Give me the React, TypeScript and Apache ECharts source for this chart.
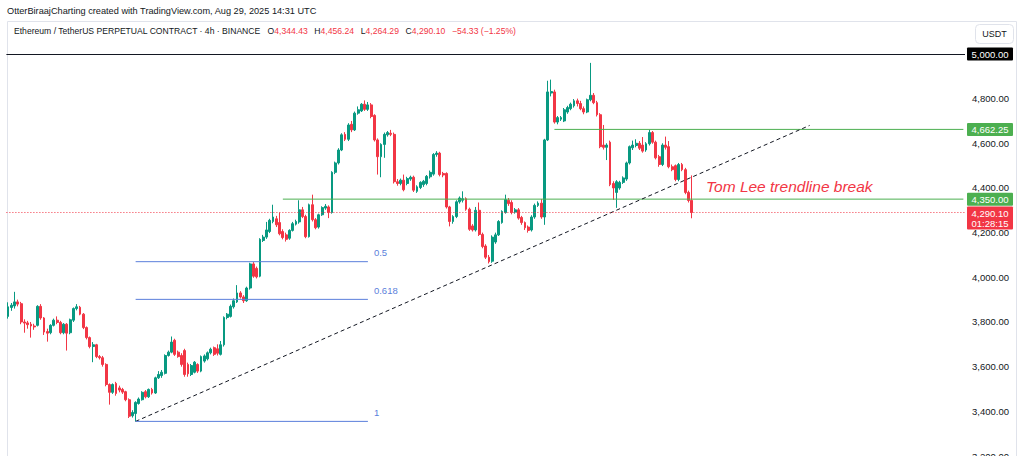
import React, { useEffect, useRef } from 'react';
import * as echarts from 'echarts';

// Each candle: [open, close, low, high] — ETH/USDT perpetual, 4h
const leg1 = [
  [3825, 3868, 3815, 3888], [3865, 3875, 3850, 3885], [3872, 3890, 3860, 3935], [3890, 3880, 3870, 3900],
  [3882, 3800, 3790, 3890], [3800, 3795, 3752, 3812], [3796, 3788, 3770, 3805], [3790, 3782, 3730, 3800],
  [3782, 3778, 3765, 3792], [3785, 3870, 3780, 3875], [3870, 3818, 3810, 3880], [3818, 3755, 3742, 3822],
  [3757, 3750, 3712, 3770], [3752, 3785, 3745, 3790], [3785, 3808, 3780, 3815], [3808, 3798, 3790, 3825],
  [3798, 3752, 3745, 3805], [3752, 3790, 3745, 3795], [3790, 3750, 3672, 3795], [3752, 3810, 3745, 3815],
  [3808, 3860, 3800, 3865], [3860, 3868, 3852, 3880], [3866, 3835, 3830, 3872], [3835, 3775, 3768, 3840],
  [3775, 3730, 3722, 3780], [3730, 3690, 3682, 3735], [3690, 3698, 3620, 3710], [3698, 3645, 3638, 3702],
  [3645, 3640, 3632, 3652], [3640, 3610, 3600, 3648], [3610, 3520, 3512, 3615], [3520, 3485, 3430, 3525],
  [3485, 3520, 3478, 3525], [3525, 3480, 3470, 3532],
];
const leg2 = [
  [3505, 3495, 3485, 3515], [3498, 3486, 3478, 3505], [3488, 3452, 3445, 3492], [3452, 3378, 3370, 3458],
  [3380, 3395, 3372, 3405], [3390, 3440, 3355, 3445], [3435, 3455, 3430, 3462], [3452, 3485, 3448, 3490],
  [3488, 3465, 3458, 3495], [3465, 3498, 3460, 3502], [3498, 3482, 3475, 3505], [3482, 3550, 3478, 3555],
  [3550, 3565, 3545, 3580], [3560, 3575, 3550, 3585], [3570, 3650, 3565, 3655], [3650, 3665, 3645, 3672],
  [3665, 3710, 3660, 3735], [3718, 3655, 3648, 3725], [3665, 3645, 3640, 3672], [3650, 3610, 3600, 3660],
  [3672, 3565, 3555, 3680], [3610, 3568, 3555, 3618], [3565, 3605, 3558, 3612], [3575, 3620, 3570, 3625],
  [3610, 3580, 3572, 3615], [3580, 3645, 3575, 3650], [3625, 3648, 3618, 3655], [3635, 3662, 3628, 3668],
  [3662, 3678, 3655, 3685], [3685, 3655, 3648, 3690], [3680, 3660, 3650, 3700], [3655, 3698, 3650, 3715],
  [3698, 3820, 3690, 3825], [3820, 3835, 3812, 3840], [3825, 3870, 3820, 3878],
];
const leg3 = [
  [3868, 3895, 3860, 3905], [3890, 3930, 3885, 3965], [3930, 3912, 3905, 3938], [3912, 3895, 3885, 3920],
  [3895, 3952, 3890, 3958], [3952, 4060, 3945, 4065], [4060, 4005, 3998, 4068], [4040, 4002, 3995, 4048],
  [4005, 4170, 4000, 4175], [4165, 4180, 4158, 4190], [4180, 4212, 4172, 4248], [4205, 4255, 4198, 4262],
  [4250, 4270, 4242, 4325], [4262, 4235, 4225, 4275], [4245, 4195, 4188, 4290], [4205, 4178, 4170, 4215],
  [4190, 4170, 4160, 4200], [4175, 4210, 4168, 4215], [4210, 4240, 4205, 4248], [4238, 4250, 4232, 4258],
  [4248, 4302, 4240, 4345], [4302, 4272, 4265, 4315], [4272, 4182, 4175, 4280], [4182, 4325, 4178, 4330],
  [4325, 4258, 4250, 4370], [4258, 4222, 4215, 4265], [4225, 4280, 4218, 4285], [4280, 4312, 4275, 4318],
  [4310, 4318, 4302, 4328], [4315, 4290, 4265, 4322], [4290, 4470, 4285, 4475], [4470, 4512, 4462, 4518],
  [4512, 4570, 4505, 4578], [4570, 4638, 4565, 4645],
];
const leg4 = [
  [4640, 4618, 4610, 4650], [4618, 4682, 4610, 4690], [4685, 4660, 4650, 4700], [4660, 4735, 4655, 4742],
  [4735, 4750, 4728, 4765], [4745, 4775, 4740, 4780], [4775, 4752, 4745, 4792], [4752, 4772, 4745, 4785],
  [4772, 4720, 4712, 4780], [4725, 4615, 4608, 4730], [4615, 4540, 4460, 4622], [4540, 4595, 4448, 4600],
  [4595, 4640, 4535, 4648], [4638, 4648, 4630, 4655], [4645, 4640, 4632, 4660], [4640, 4428, 4420, 4648],
  [4428, 4420, 4410, 4440], [4420, 4435, 4412, 4442], [4435, 4392, 4385, 4460], [4420, 4442, 4412, 4450],
  [4440, 4448, 4432, 4455], [4448, 4390, 4382, 4455], [4385, 4405, 4378, 4412], [4402, 4425, 4395, 4430],
  [4415, 4430, 4405, 4436], [4420, 4452, 4412, 4458], [4450, 4470, 4442, 4478], [4462, 4550, 4455, 4556],
  [4550, 4556, 4540, 4565], [4556, 4460, 4452, 4562], [4465, 4458, 4448, 4472], [4465, 4315, 4308, 4470],
  [4315, 4250, 4228, 4320], [4250, 4272, 4240, 4278], [4272, 4338, 4265, 4345], [4338, 4355, 4330, 4362],
];
const leg5 = [
  [4345, 4352, 4335, 4385], [4352, 4305, 4298, 4358], [4305, 4215, 4208, 4312], [4230, 4212, 4205, 4238],
  [4212, 4300, 4205, 4315], [4300, 4192, 4185, 4335], [4192, 4138, 4130, 4200], [4140, 4090, 4082, 4148],
  [4090, 4070, 4062, 4100], [4072, 4180, 4065, 4188], [4158, 4190, 4150, 4200], [4190, 4250, 4185, 4256],
  [4245, 4295, 4240, 4300], [4290, 4348, 4285, 4370], [4345, 4330, 4320, 4355], [4335, 4290, 4282, 4345],
  [4292, 4302, 4285, 4310], [4302, 4265, 4258, 4310], [4268, 4245, 4235, 4275], [4245, 4222, 4212, 4250],
  [4225, 4210, 4200, 4232], [4212, 4270, 4205, 4278], [4270, 4322, 4262, 4330], [4322, 4332, 4315, 4340],
  [4332, 4270, 4262, 4350], [4270, 4615, 4235, 4620], [4615, 4830, 4610, 4880], [4825, 4832, 4810, 4885],
  [4830, 4695, 4688, 4840], [4695, 4715, 4685, 4722], [4708, 4715, 4700, 4722], [4700, 4750, 4695, 4758],
  [4740, 4760, 4732, 4768], [4755, 4775, 4748, 4782], [4768, 4790, 4760, 4798], [4790, 4778, 4765, 4800],
];
const leg6 = [
  [4778, 4755, 4748, 4790], [4755, 4740, 4730, 4765], [4740, 4795, 4735, 4800], [4795, 4815, 4788, 4960],
  [4815, 4782, 4775, 4825], [4782, 4728, 4720, 4790], [4728, 4585, 4578, 4735], [4592, 4582, 4572, 4682],
  [4582, 4592, 4525, 4600], [4605, 4415, 4408, 4612], [4420, 4400, 4347, 4430], [4380, 4428, 4311, 4435],
  [4400, 4425, 4392, 4432], [4425, 4445, 4418, 4452], [4440, 4512, 4432, 4518], [4512, 4585, 4505, 4590],
  [4580, 4592, 4570, 4612], [4590, 4600, 4582, 4618], [4600, 4578, 4570, 4610], [4592, 4565, 4558, 4628],
  [4570, 4598, 4562, 4605], [4598, 4648, 4590, 4660], [4648, 4605, 4598, 4655], [4605, 4535, 4528, 4612],
  [4540, 4505, 4495, 4548], [4505, 4592, 4498, 4600], [4592, 4582, 4572, 4630], [4585, 4495, 4488, 4610],
  [4495, 4482, 4475, 4505], [4500, 4438, 4430, 4505], [4438, 4505, 4430, 4512], [4505, 4482, 4475, 4512],
  [4482, 4380, 4372, 4490], [4380, 4344, 4335, 4388], [4344.43, 4290.1, 4264.29, 4456.24],
];

const candles = [...leg1, ...leg2, ...leg3, ...leg4, ...leg5, ...leg6];

// Time slots (including empty space to the right of the last candle)
const SLOT_COUNT = 293;
const slots = Array.from({ length: SLOT_COUNT }, (_, i) => String(i));

// Levels / drawings
const roundLevel = 5000;
const lastPrice = 4290.1;
const countdown = '01:28:15';
const resistanceLevel = 4662.25;
const resistanceStart = 167;
const supportLevel = 4350.0;
const supportStart = 84;
const trendStart = [39, 3355];
const trendEnd = [245, 4680];
const fibHigh = 4785;
const fibLow = 3355;
const fibRatios = [0.5, 0.618, 1];
const fibStart = 39;
const fibEnd = 110;

const yMin = 3200;
const yMax = 5152;
const yStep = 200;

const FONT = '"Liberation Sans", Arial, sans-serif';
const UP = '#089981';
const DOWN = '#f23645';
const GREEN_LINE = '#4caf50';
const FIB = '#5b7fdb';
const INK = '#131722';

const fmt = (v: number) =>
  v.toLocaleString('en-US', { minimumFractionDigits: 2, maximumFractionDigits: 2 });

const drawing = (name: string, pts: number[][], color: string, type: any = 'solid') => ({
  name,
  type: 'line',
  data: pts,
  symbol: 'none',
  showSymbol: false,
  silent: true,
  z: 3,
  lineStyle: { color, width: 1, type },
  itemStyle: { color },
});

export default function App() {
  const ref = useRef<HTMLDivElement>(null);

  useEffect(() => {
    if (!ref.current) return;
    const chart = echarts.init(ref.current, undefined, { renderer: 'svg' });
    const lastSlot = SLOT_COUNT - 1;
    const fibValue = (r: number) => fibHigh - r * (fibHigh - fibLow);

    chart.setOption({
      animation: false,
      grid: { left: 6.4, right: 59, top: 20, bottom: 0, outerBoundsMode: 'none' },
      xAxis: { type: 'category', data: slots, show: false, boundaryGap: true },
      yAxis: {
        type: 'value',
        position: 'right',
        min: yMin,
        max: yMax,
        interval: yStep,
        splitLine: { show: false },
        axisLine: { show: false },
        axisTick: { show: false },
        axisLabel: {
          margin: 7,
          color: INK,
          fontSize: 9.5,
          fontFamily: FONT,
          formatter: (v: number) => (v % yStep === 0 && v < roundLevel ? fmt(v) : ''),
        },
      },
      series: [
        {
          type: 'candlestick',
          data: candles,
          barWidth: '72%',
          z: 2,
          itemStyle: { color: UP, color0: DOWN, borderColor: UP, borderColor0: DOWN, borderWidth: 1 },
          markLine: {
            symbol: ['none', 'none'],
            silent: true,
            label: { show: false },
            data: [
              { yAxis: roundLevel, lineStyle: { color: INK, type: 'solid', width: 1 } },
              { yAxis: lastPrice, lineStyle: { color: DOWN, type: [1, 2], width: 1 } },
            ],
          },
        },
        drawing('support', [[supportStart, supportLevel], [lastSlot, supportLevel]], GREEN_LINE),
        drawing('resistance', [[resistanceStart, resistanceLevel], [lastSlot, resistanceLevel]], GREEN_LINE),
        drawing('trendline', [trendStart, trendEnd], INK, [4, 3]),
        ...fibRatios.map((r) =>
          drawing('fib ' + r, [[fibStart, fibValue(r)], [fibEnd, fibValue(r)]], FIB)
        ),
      ],
    });

    const py = (v: number) => chart.convertToPixel({ yAxisIndex: 0 }, v) as number;
    const pt = (x: number, y: number) => chart.convertToPixel({ seriesIndex: 0 }, [x, y]) as number[];

    const box = (value: number, bg: string) => ({
      type: 'group',
      x: 967,
      y: py(value) - 6.5,
      z: 50,
      children: [
        { type: 'rect', shape: { x: 0, y: 0, width: 46, height: 13, r: 1 }, style: { fill: bg } },
        {
          type: 'text',
          x: 23,
          y: 7,
          style: { text: fmt(value), fill: '#fff', font: `9.5px ${FONT}`, align: 'center', verticalAlign: 'middle' },
        },
      ],
    });

    const fibLabels = fibRatios.map((r) => {
      const p = pt(fibEnd, fibValue(r));
      return {
        type: 'text',
        x: p[0] + 6,
        y: p[1] - 9,
        z: 50,
        style: { text: String(r), fill: FIB, font: `9.5px ${FONT}`, verticalAlign: 'middle' },
      };
    });

    const lastY = py(lastPrice);

    chart.setOption({
      graphic: [
        {
          type: 'rect',
          z: 1,
          shape: { x: 7.5, y: 21.5, width: 1009, height: 440 },
          style: { fill: 'none', stroke: '#e0e3eb', lineWidth: 1 },
        },
        {
          type: 'text',
          x: 7,
          y: 11,
          style: {
            text: 'OtterBiraajCharting created with TradingView.com, Aug 29, 2025 14:31 UTC',
            fill: INK,
            font: `9.2px ${FONT}`,
            verticalAlign: 'middle',
          },
        },
        {
          type: 'text',
          x: 14,
          y: 31,
          z: 50,
          style: {
            text:
              '{t|Ethereum / TetherUS PERPETUAL CONTRACT · 4h · BINANCE}  {k|O}{v|4,344.43}  {k|H}{v|4,456.24}  {k|L}{v|4,264.29}  {k|C}{v|4,290.10}  {v|−54.33 (−1.25%)}',
            verticalAlign: 'middle',
            rich: {
              t: { fill: INK, font: `8.6px ${FONT}` },
              k: { fill: INK, font: `8.6px ${FONT}` },
              v: { fill: DOWN, font: `8.6px ${FONT}` },
            },
          },
        },
        {
          type: 'group',
          x: 975,
          y: 24,
          z: 50,
          children: [
            {
              type: 'rect',
              shape: { x: 0.5, y: 0.5, width: 38, height: 19, r: 4 },
              style: { fill: '#fff', stroke: '#e0e3eb', lineWidth: 1 },
            },
            {
              type: 'text',
              x: 19.5,
              y: 10,
              style: { text: 'USDT', fill: INK, font: `9px ${FONT}`, align: 'center', verticalAlign: 'middle' },
            },
          ],
        },
        box(roundLevel, '#000000'),
        box(resistanceLevel, GREEN_LINE),
        box(supportLevel, GREEN_LINE),
        {
          type: 'group',
          x: 967,
          y: lastY - 6,
          z: 60,
          children: [
            { type: 'rect', shape: { x: 0, y: 0, width: 46, height: 23, r: 1 }, style: { fill: DOWN } },
            {
              type: 'text',
              x: 23,
              y: 6.5,
              style: { text: fmt(lastPrice), fill: '#fff', font: `9.5px ${FONT}`, align: 'center', verticalAlign: 'middle' },
            },
            {
              type: 'text',
              x: 23,
              y: 17,
              style: { text: countdown, fill: '#fff', font: `9.5px ${FONT}`, align: 'center', verticalAlign: 'middle' },
            },
          ],
        },
        ...fibLabels,
        {
          type: 'text',
          x: 706,
          y: 186,
          z: 50,
          style: {
            text: 'Tom Lee trendline break',
            fill: DOWN,
            font: `italic 15.5px ${FONT}`,
            verticalAlign: 'middle',
          },
        },
      ],
    });

    return () => chart.dispose();
  }, []);

  return <div ref={ref} style={{ width: 1024, height: 456, position: 'absolute', left: 0, top: 0, background: '#fff' }} />;
}
